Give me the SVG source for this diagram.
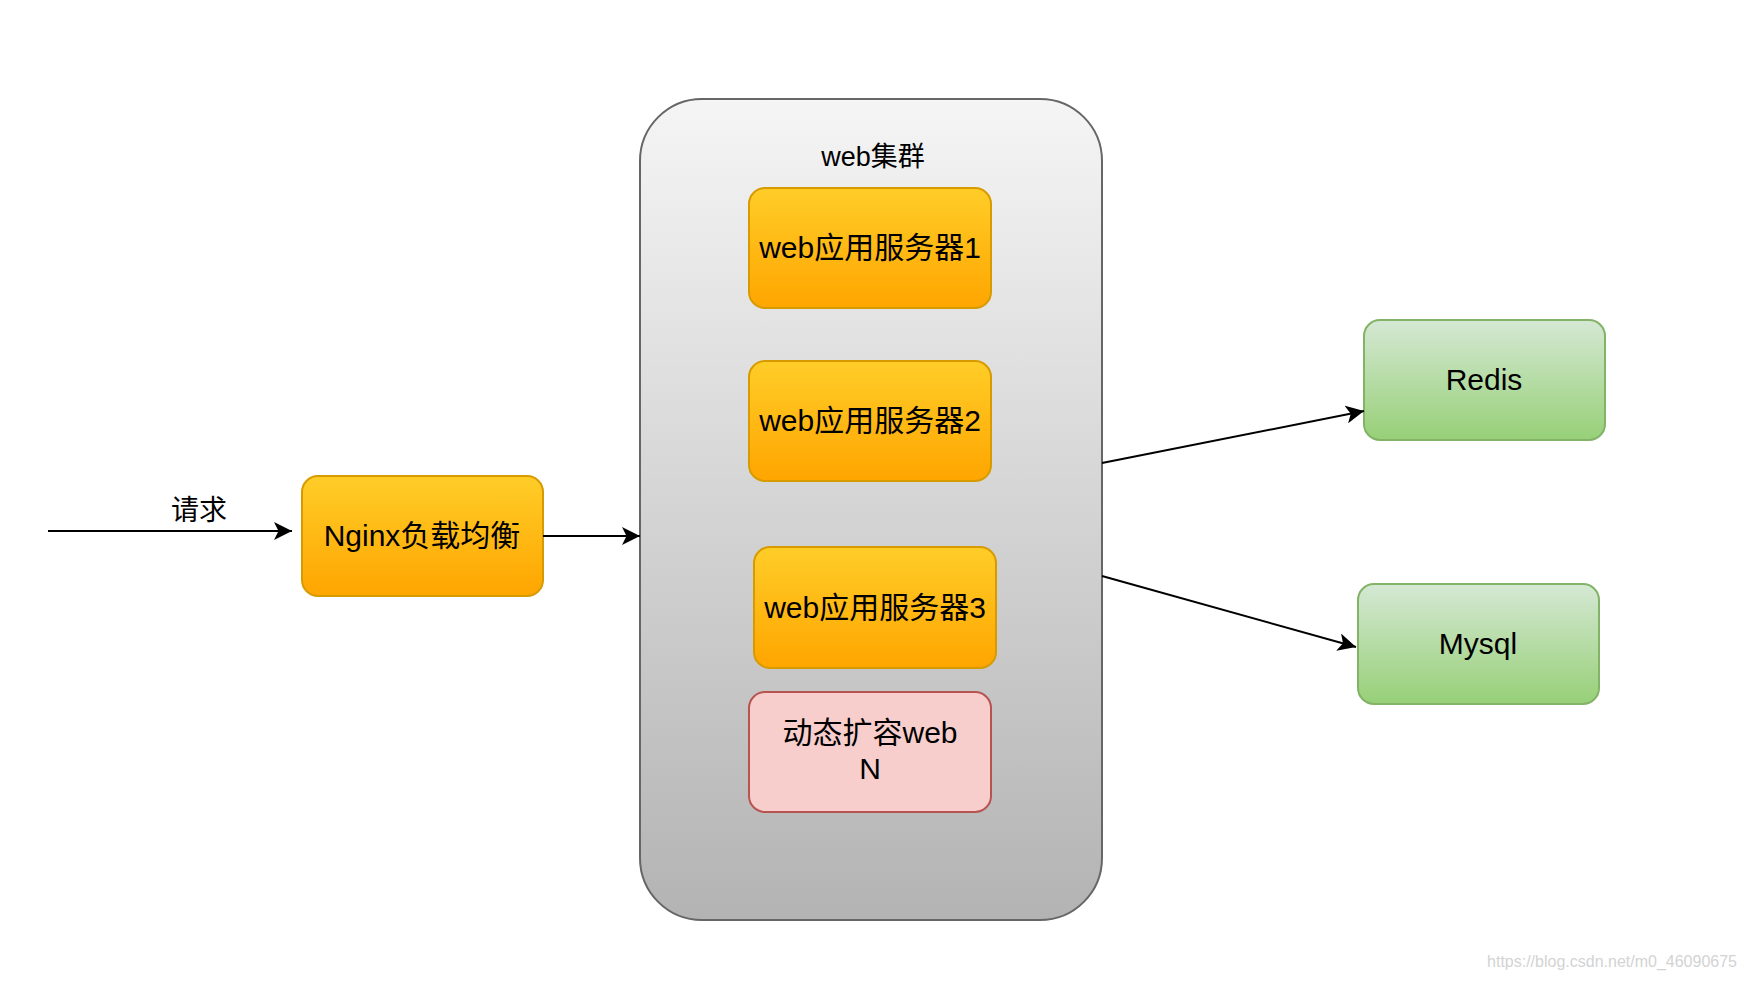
<svg xmlns="http://www.w3.org/2000/svg" width="1747" height="981" viewBox="0 0 1747 981">
<defs>
<linearGradient id="gCluster" x1="0" y1="0" x2="0" y2="1"><stop offset="0" stop-color="#f5f5f5"/><stop offset="1" stop-color="#b3b3b3"/></linearGradient>
<linearGradient id="gOrange" x1="0" y1="0" x2="0" y2="1"><stop offset="0" stop-color="#ffcd28"/><stop offset="1" stop-color="#ffa500"/></linearGradient>
<linearGradient id="gGreen" x1="0" y1="0" x2="0" y2="1"><stop offset="0" stop-color="#d5e8d4"/><stop offset="1" stop-color="#97d077"/></linearGradient>
<marker id="arrow" markerUnits="userSpaceOnUse" viewBox="0 0 18 18" markerWidth="18" markerHeight="18" refX="18" refY="9" orient="auto">
<path d="M0,0 L18,9 L0,18 L4.5,9 Z" fill="#000"/>
</marker>
<style>
text{font-family:"Liberation Sans","Noto Sans CJK SC",sans-serif;fill:#000;text-anchor:middle}
.lbl{font-size:30px}
.orange{fill:url(#gOrange);stroke:#d79b00;stroke-width:2}
.green{fill:url(#gGreen);stroke:#82b366;stroke-width:2}
.pink{fill:#f8cecc;stroke:#b85450;stroke-width:2}
.edge{fill:none;stroke:#000;stroke-width:2;marker-end:url(#arrow)}
</style>
</defs>
<rect width="1747" height="981" fill="#fff"/>
<g id="cluster">
<rect x="640" y="99" width="462" height="821" rx="62" ry="62" fill="url(#gCluster)" stroke="#666" stroke-width="2"/>
<text x="873" y="166" font-size="27">web集群</text>
</g>
<g id="web1">
<rect class="orange" x="749" y="188" width="242" height="120" rx="16"/>
<text class="lbl" x="870" y="258">web应用服务器1</text>
</g>
<g id="web2">
<rect class="orange" x="749" y="361" width="242" height="120" rx="16"/>
<text class="lbl" x="870" y="431">web应用服务器2</text>
</g>
<g id="web3">
<rect class="orange" x="754" y="547" width="242" height="121" rx="16"/>
<text class="lbl" x="875" y="618">web应用服务器3</text>
</g>
<g id="webN">
<rect class="pink" x="749" y="692" width="242" height="120" rx="16"/>
<text class="lbl" x="870" y="743">动态扩容web</text>
<text class="lbl" x="870" y="779">N</text>
</g>
<g id="nginx">
<rect class="orange" x="302" y="476" width="241" height="120" rx="16"/>
<text class="lbl" x="422" y="546">Nginx负载均衡</text>
</g>
<g id="redis">
<rect class="green" x="1364" y="320" width="241" height="120" rx="16"/>
<text class="lbl" x="1484" y="390">Redis</text>
</g>
<g id="mysql">
<rect class="green" x="1358" y="584" width="241" height="120" rx="16"/>
<text class="lbl" x="1478" y="654">Mysql</text>
</g>
<g id="connectors">
<line class="edge" x1="48" y1="531" x2="292" y2="531"/>
<text x="199" y="520" font-size="28">请求</text>
<line class="edge" x1="543" y1="536" x2="640" y2="536"/>
<line class="edge" x1="1102" y1="463" x2="1364" y2="411"/>
<line class="edge" x1="1102" y1="576" x2="1356" y2="647"/>
</g>
<text x="1737" y="967" font-size="16" style="text-anchor:end;fill:#d3d3d3">https://blog.csdn.net/m0_46090675</text>
</svg>
